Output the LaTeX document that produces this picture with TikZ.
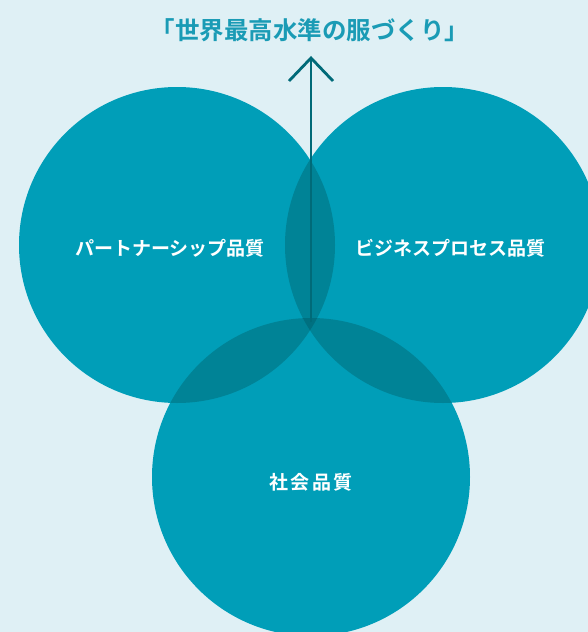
\documentclass[tikz,border=0pt]{standalone}
\usepackage{fontspec}
\newfontfamily\jpfont{Noto Sans CJK JP}[BoldFont={Noto Sans CJK JP Bold}]
\definecolor{bgc}{RGB}{223,240,245}
\definecolor{circc}{RGB}{0,158,184}
\definecolor{ovc}{RGB}{0,131,150}
\definecolor{trc}{RGB}{0,112,128}
\definecolor{arrc}{RGB}{0,106,120}
\definecolor{titc}{RGB}{26,155,181}
\begin{document}
\begin{tikzpicture}[x=1pt,y=-1pt,
  lbl/.style={text=white,font=\jpfont\bfseries\fontsize{19}{22}\selectfont},
  ttl/.style={text=titc,font=\jpfont\bfseries\fontsize{24.5}{28}\selectfont}]
\path[use as bounding box] (0,0) rectangle (588,632);
\fill[bgc] (0,0) rectangle (588,632);
\begin{scope}
\clip (0,0) rectangle (588,632);
\def\cL{(177,245) circle (158)}
\def\cR{(443,245) circle (158)}
\def\cB{(311,477) circle (159)}
\fill[circc] \cL; \fill[circc] \cR; \fill[circc] \cB;
\begin{scope}\clip \cL; \fill[ovc] \cR; \fill[ovc] \cB; \end{scope}
\begin{scope}\clip \cR; \fill[ovc] \cB; \end{scope}
\begin{scope}\clip \cL; \clip \cR; \fill[trc] \cB; \end{scope}
\end{scope}
\coordinate (top) at (311,58);
\coordinate (bot) at (311,322);
\coordinate (hl) at (289,81);
\coordinate (hr) at (333,81);
\draw[arrc,line width=2.8pt] (bot) -- (top);
\draw[arrc,line width=2.8pt,line cap=butt,line join=miter] (hl) -- (top) -- (hr);
\node[ttl] (title) at (310,30) {「世界最高水準の服づくり」};
\node[lbl] (pq) at (170,248) {パートナーシップ品質};
\node[lbl] (bq) at (450,248) {ビジネスプロセス品質};
\node[lbl] (sq) at (311,482) {社\kern2.5pt 会\kern2.5pt 品\kern2.5pt 質};
\end{tikzpicture}
\end{document}
